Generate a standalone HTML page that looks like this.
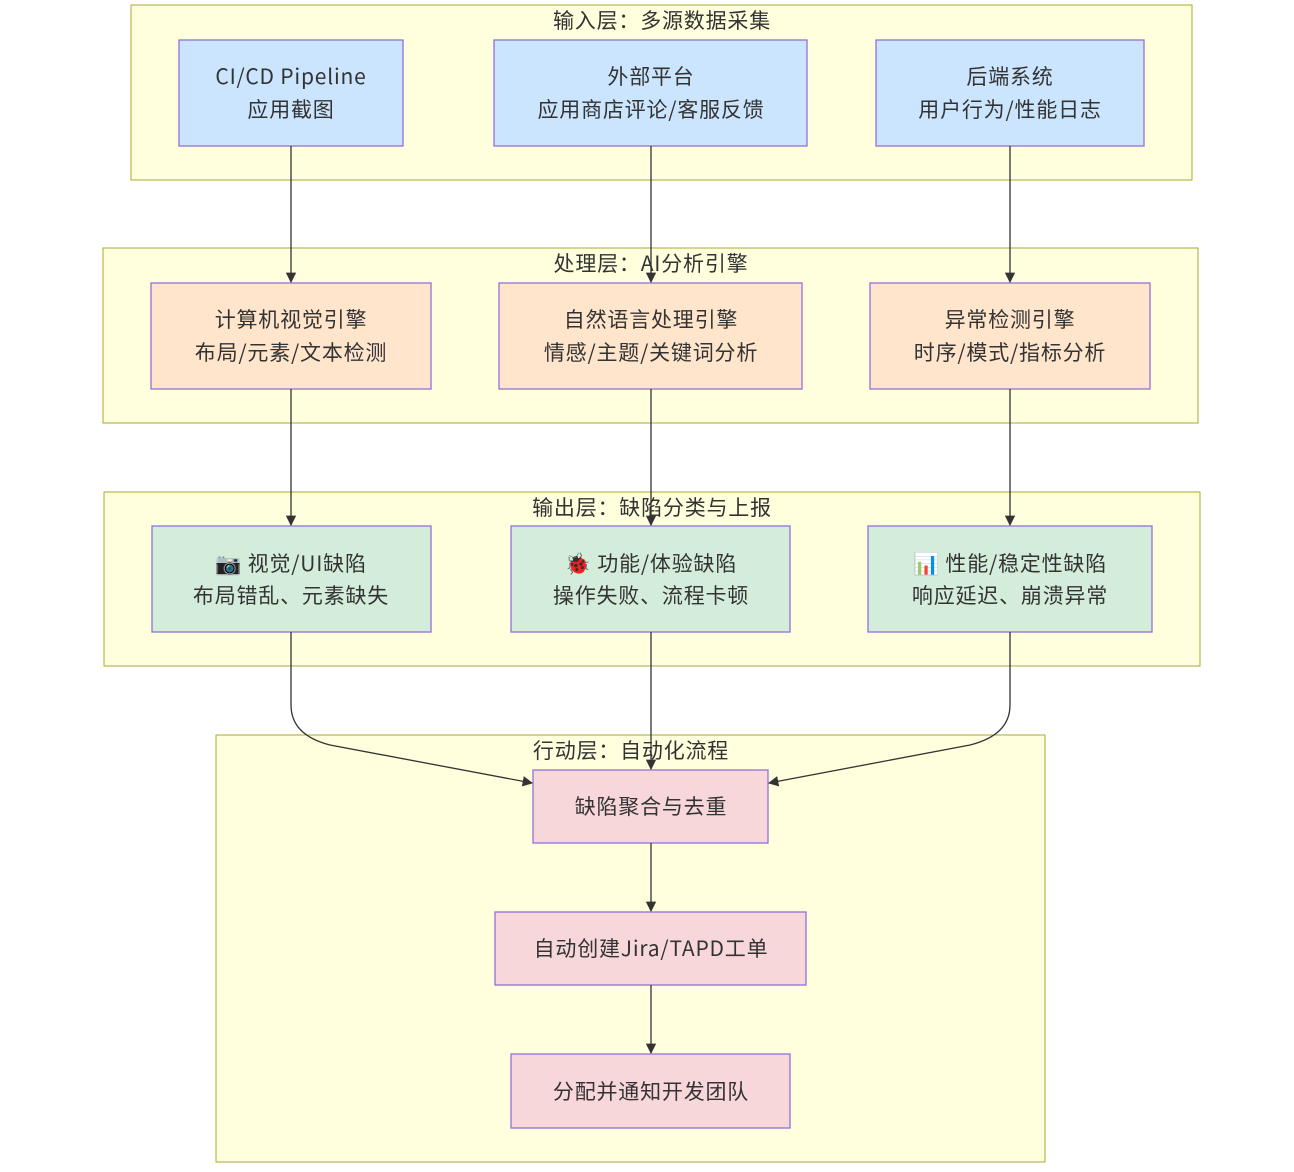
<!DOCTYPE html>
<html><head><meta charset="utf-8"><style>
body{margin:0;background:#fff;width:1294px;height:1167px;overflow:hidden}
svg text{font-family:"Noto Sans CJK SC","Liberation Sans",sans-serif;fill:#333;font-size:21px;letter-spacing:0.8px;text-anchor:middle}
.cl{fill:#ffffde;stroke:#aaaa33;stroke-width:1}
.n{stroke:#9370db;stroke-width:1.3}
.e{fill:none;stroke:#333;stroke-width:1.3}
</style></head><body>
<svg width="1294" height="1167" xmlns="http://www.w3.org/2000/svg">
<defs><marker id="a" viewBox="0 0 10 10" refX="9" refY="5" markerWidth="8" markerHeight="8" orient="auto"><path d="M0,0L10,5L0,10z" fill="#333"/></marker></defs>
<rect class="cl" x="131" y="5" width="1061" height="175"/>
<rect class="cl" x="103" y="248" width="1095" height="175"/>
<rect class="cl" x="104" y="492" width="1096" height="174"/>
<rect class="cl" x="216" y="735" width="829" height="427"/>
<text x="662" y="28">输入层：多源数据采集</text>
<text x="651" y="271">处理层：AI分析引擎</text>
<text x="652" y="515">输出层：缺陷分类与上报</text>
<text x="631" y="758">行动层：自动化流程</text>
<g fill="#cce5ff"><rect class="n" x="179" y="40" width="224" height="106"/><rect class="n" x="494" y="40" width="313" height="106"/><rect class="n" x="876" y="40" width="268" height="106"/></g>
<g fill="#ffe5cc"><rect class="n" x="151" y="283" width="280" height="106"/><rect class="n" x="499" y="283" width="303" height="106"/><rect class="n" x="870" y="283" width="280" height="106"/></g>
<g fill="#d4edda"><rect class="n" x="152" y="526" width="279" height="106"/><rect class="n" x="511" y="526" width="279" height="106"/><rect class="n" x="868" y="526" width="284" height="106"/></g>
<g fill="#f8d7da"><rect class="n" x="533" y="770" width="235" height="73"/><rect class="n" x="495" y="912" width="311" height="73"/><rect class="n" x="511" y="1054" width="279" height="74"/></g>
<text x="291" y="84">CI/CD Pipeline</text><text x="291" y="117">应用截图</text>
<text x="651" y="84">外部平台</text><text x="651" y="117">应用商店评论/客服反馈</text>
<text x="1010" y="84">后端系统</text><text x="1010" y="117">用户行为/性能日志</text>
<text x="291" y="327">计算机视觉引擎</text><text x="291" y="360">布局/元素/文本检测</text>
<text x="651" y="327">自然语言处理引擎</text><text x="651" y="360">情感/主题/关键词分析</text>
<text x="1010" y="327">异常检测引擎</text><text x="1010" y="360">时序/模式/指标分析</text>
<text x="291" y="571">📷 视觉/UI缺陷</text><text x="291" y="603">布局错乱、元素缺失</text>
<text x="651" y="571">🐞 功能/体验缺陷</text><text x="651" y="603">操作失败、流程卡顿</text>
<text x="1010" y="571">📊 性能/稳定性缺陷</text><text x="1010" y="603">响应延迟、崩溃异常</text>
<text x="651" y="814">缺陷聚合与去重</text>
<text x="651" y="956">自动创建Jira/TAPD工单</text>
<text x="651" y="1099">分配并通知开发团队</text>
<g class="e" marker-end="url(#a)">
<path d="M291,146V282"/><path d="M651,146V282"/><path d="M1010,146V282"/>
<path d="M291,389V525"/><path d="M651,389V525"/><path d="M1010,389V525"/>
<path d="M291,632V705Q291,735 330,745L532,783"/>
<path d="M651,632V769"/>
<path d="M1010,632V705Q1010,735 970,745L769,783"/>
<path d="M651,843V911"/><path d="M651,985V1053"/>
</g>
</svg>
</body></html>
